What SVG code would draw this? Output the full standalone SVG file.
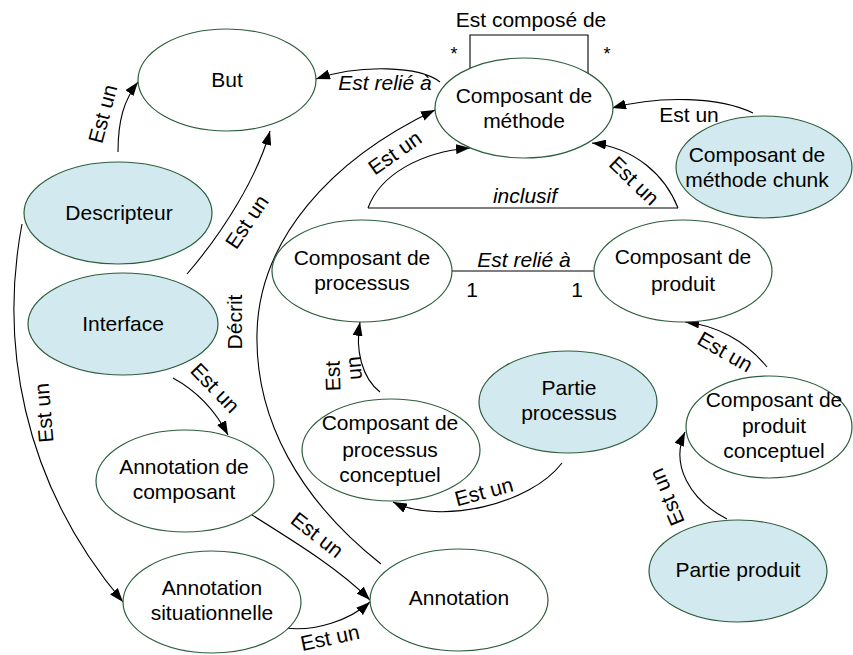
<svg xmlns="http://www.w3.org/2000/svg" width="853" height="655" viewBox="0 0 853 655">
  <defs>
    <marker id="arrow" viewBox="0 0 14 10" refX="14" refY="5" markerWidth="14" markerHeight="10" markerUnits="userSpaceOnUse" orient="auto">
      <path d="M0,0 L14,5 L0,10 z" fill="#000"/>
    </marker>
    <style>
      text { font-family: "Liberation Sans", Arial, Helvetica, sans-serif; font-size: 21px; fill: #000; }
      .node ellipse { stroke: #2c5e3c; stroke-width: 1.2; fill: #fff; }
      .node.part ellipse { fill: #d2eaef; }
      .node text { text-anchor: middle; }
      .edges path { fill: none; stroke: #000; stroke-width: 1.1; }
      .edges .arr { marker-end: url(#arrow); }
      .lbl text { text-anchor: middle; }
      .it { font-style: italic; }
    </style>
  </defs>
  <rect width="853" height="655" fill="#fff"/>

  <!-- connectors -->
  <g id="connectors" class="edges">
    <path class="arr" d="M118,152 C118,120 124,100 138,82"/>
    <path class="arr" d="M187,274 C225,230 258,175 270,131"/>
    <path class="arr" d="M440,82 C420,66 360,64 316,79"/>
    <path class="arr" d="M381,564 C300,500 255,420 257,333 C259,240 330,160 435,110"/>
    <path d="M368,208 L678,208"/>
    <path class="arr" d="M368,208 C380,175 420,152 470,148"/>
    <path class="arr" d="M678,208 C665,175 635,148 592,143"/>
    <path class="arr" d="M753,113 C720,97 660,95 612,108"/>
    <path d="M470,68 L470,35 L588,35 L588,73"/>
    <path d="M452,271 L594,271"/>
    <path class="arr" d="M380,392 C362,378 355,350 360,322"/>
    <path class="arr" d="M562,463 C530,505 440,525 393,502"/>
    <path class="arr" d="M767,367 C745,340 715,325 685,322"/>
    <path class="arr" d="M727,519 C690,500 670,465 685,432"/>
    <path class="arr" d="M22,224 C0,340 20,480 123,602"/>
    <path class="arr" d="M173,378 C195,390 215,410 228,435"/>
    <path class="arr" d="M252,515 C300,545 340,570 370,600"/>
    <path class="arr" d="M285,628 C315,632 350,620 370,602"/>
  </g>

  <!-- connector labels -->
  <g id="labels" class="lbl">
    <text class="it" x="385" y="90">Est relié à</text>
    <text x="531" y="27">Est composé de</text>
    <text x="454" y="60" style="font-size:18px">*</text>
    <text x="607" y="60" style="font-size:18px">*</text>
    <text transform="translate(103,114) rotate(-75)" y="7">Est un</text>
    <text transform="translate(247,222) rotate(-56)" y="7">Est un</text>
    <text transform="translate(235,322) rotate(-90)" y="7">Décrit</text>
    <text transform="translate(395,153) rotate(-35)" y="7">Est un</text>
    <text class="it" x="525" y="203">inclusif</text>
    <text transform="translate(634,181) rotate(44)" y="7">Est un</text>
    <text x="689" y="122">Est un</text>
    <text class="it" x="524" y="267">Est relié à</text>
    <text x="472" y="297">1</text>
    <text x="577" y="297">1</text>
    <text transform="translate(333,376) rotate(-92)" y="7">Est</text>
    <text transform="translate(356,368) rotate(-95)" y="5">un</text>
    <text transform="translate(484,492) rotate(-15)" y="7">Est un</text>
    <text transform="translate(725,352) rotate(30)" y="7">Est un</text>
    <text transform="translate(667,497) rotate(-113)" y="7">Est un</text>
    <text transform="translate(44,413) rotate(-95)" y="7">Est un</text>
    <text transform="translate(215,388) rotate(46)" y="7">Est un</text>
    <text transform="translate(317,535) rotate(38)" y="7">Est un</text>
    <text transform="translate(330,638) rotate(-12)" y="7">Est un</text>
  </g>

  <!-- nodes -->
  <g id="but" class="node">
    <ellipse cx="227" cy="80" rx="89" ry="51"/>
    <text x="227" y="87">But</text>
  </g>
  <g id="composant-methode" class="node">
    <ellipse cx="524" cy="108" rx="89" ry="50"/>
    <text x="524" y="103">Composant de</text>
    <text x="524" y="128">méthode</text>
  </g>
  <g id="composant-methode-chunk" class="node part">
    <ellipse cx="764" cy="167" rx="88" ry="51"/>
    <text x="757" y="162">Composant de</text>
    <text x="757" y="187">méthode chunk</text>
  </g>
  <g id="descripteur" class="node part">
    <ellipse cx="118" cy="213" rx="94" ry="51"/>
    <text x="119" y="220">Descripteur</text>
  </g>
  <g id="interface" class="node part">
    <ellipse cx="123" cy="324" rx="95" ry="51"/>
    <text x="123" y="331">Interface</text>
  </g>
  <g id="composant-processus" class="node">
    <ellipse cx="362" cy="271" rx="90" ry="51"/>
    <text x="362" y="265">Composant de</text>
    <text x="362" y="290">processus</text>
  </g>
  <g id="composant-produit" class="node">
    <ellipse cx="683" cy="271" rx="89" ry="51"/>
    <text x="683" y="264">Composant de</text>
    <text x="683" y="291">produit</text>
  </g>
  <g id="partie-processus" class="node part">
    <ellipse cx="568" cy="402" rx="89" ry="51"/>
    <text x="569" y="395">Partie</text>
    <text x="569" y="420">processus</text>
  </g>
  <g id="composant-processus-conceptuel" class="node">
    <ellipse cx="391" cy="450" rx="89" ry="51"/>
    <text x="390" y="430">Composant de</text>
    <text x="390" y="457">processus</text>
    <text x="390" y="482">conceptuel</text>
  </g>
  <g id="composant-produit-conceptuel" class="node">
    <ellipse cx="769" cy="427" rx="83" ry="51"/>
    <text x="774" y="407">Composant de</text>
    <text x="774" y="433">produit</text>
    <text x="774" y="458">conceptuel</text>
  </g>
  <g id="partie-produit" class="node part">
    <ellipse cx="738" cy="571" rx="89" ry="51"/>
    <text x="738" y="577">Partie produit</text>
  </g>
  <g id="annotation-composant" class="node">
    <ellipse cx="185" cy="481" rx="89" ry="51"/>
    <text x="184" y="474">Annotation de</text>
    <text x="184" y="499">composant</text>
  </g>
  <g id="annotation-situationnelle" class="node">
    <ellipse cx="212" cy="602" rx="89" ry="51"/>
    <text x="212" y="595">Annotation</text>
    <text x="212" y="620">situationnelle</text>
  </g>
  <g id="annotation" class="node">
    <ellipse cx="459" cy="600" rx="89" ry="51"/>
    <text x="459" y="605">Annotation</text>
  </g>
</svg>
